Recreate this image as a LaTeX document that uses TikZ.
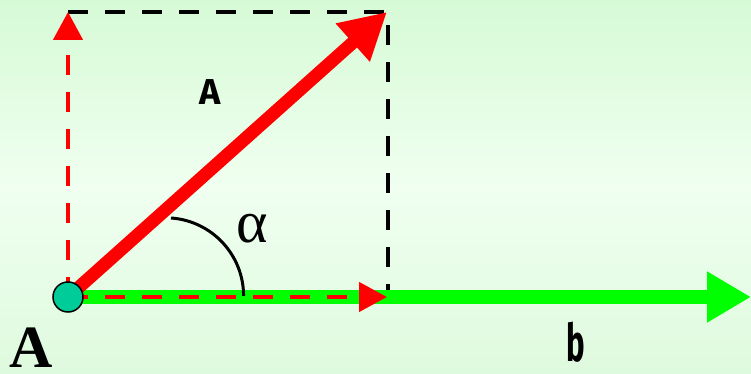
\documentclass[tikz,border=0pt]{standalone}
\usepackage{fontspec}
\setmainfont{Liberation Serif}
\newfontfamily\handfont{Fira Sans}
\usetikzlibrary{arrows.meta}
\definecolor{bgtop}{RGB}{214,250,214}
\definecolor{bgmid}{RGB}{240,255,240}
\definecolor{bgbot}{RGB}{222,250,222}
\definecolor{pointfill}{RGB}{0,204,153}
\definecolor{vgreen}{RGB}{0,255,0}
\tikzset{
  bigvec/.style={line width=13pt,red,-{Triangle[length=46pt,width=48pt]}},
  basevec/.style={line width=14pt,vgreen,-{Triangle[length=44pt,width=48pt]}},
  comp/.style={line width=4.5pt,red,dash pattern=on 20pt off 17pt,-{Triangle[length=28pt,width=29pt]}},
  guide/.style={line width=4pt,black,dash pattern=on 20pt off 17pt},
  handlbl/.style={font=\handfont\bfseries\fontsize{36}{36}\selectfont}
}
\begin{document}
\begin{tikzpicture}[x=1pt,y=1pt]
\shade[top color=bgtop,bottom color=bgbot,middle color=bgmid] (0,0) rectangle (751,374);
\useasboundingbox (0,0) rectangle (751,374);
\coordinate (O) at (68,77);
\coordinate (R) at (387,362);
\coordinate (Ry) at (68,362);
\coordinate (Rx) at (387,77);
\coordinate (Rxg) at (388,84);
\coordinate (Rg) at (388,362);
\coordinate (G) at (751,77);
\draw[basevec] (O) -- (G);
\draw[guide] (Ry) -- (Rg) -- (Rxg);
\draw[comp] (O) -- (Rx);
\draw[comp] (O) -- (Ry);
\draw[bigvec] (O) -- (R);
\draw[line width=3pt] (171,156) arc (86:0:78);
\node[circle,draw=black,line width=1.5pt,fill=pointfill,minimum size=30pt,inner sep=0pt] (P) at (O) {};
\node[font=\fontsize{60}{60}\selectfont] (alpha) at (252,145) {α};
\node[handlbl] (lblA) at (210,282) {A};
\node[handlbl,font=\handfont\bfseries\fontsize{52}{52}\selectfont] (lblb) at (576,32) {\scalebox{0.6}[1]{b}};
\node[font=\bfseries\fontsize{60}{60}\selectfont,anchor=base,inner sep=0pt] (lblO) at (31,6) {A};
\end{tikzpicture}
\end{document}
